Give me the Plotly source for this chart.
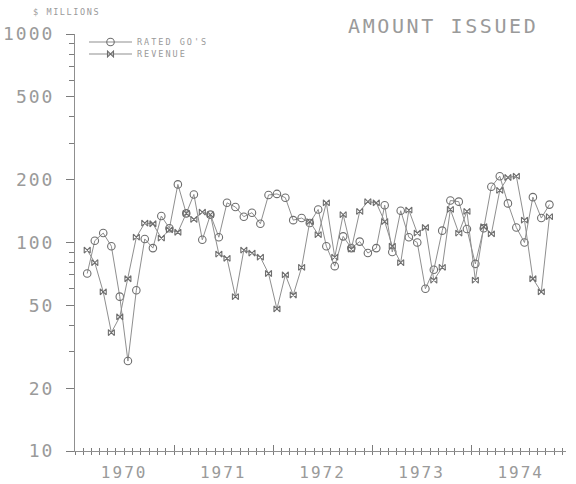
import plotly.graph_objects as go

# ---- data (monthly, $ millions) ----
months = [f"{1970 + m // 12}-{m % 12 + 1:02d}-15" for m in range(1, 58)]  # Feb 1970 .. Oct 1974

rated_gos = [71, 102, 111, 96, 55, 27, 59, 104, 94, 134, 117, 190,
             138, 170, 103, 136, 106, 155, 148, 133, 139, 123, 169, 171,
             164, 128, 131, 124, 144, 96, 77, 107, 94, 101, 89, 94,
             151, 90, 142, 106, 100, 60, 74, 114, 159, 157, 116, 79,
             117, 185, 208, 154, 118, 100, 165, 131, 152]

revenue = [92, 80, 58, 37, 44, 67, 106, 124, 123, 105, 115, 112,
           138, 129, 140, 136, 88, 84, 55, 92, 89, 85, 71, 48,
           70, 56, 76, 126, 109, 155, 85, 136, 93, 141, 157, 155,
           126, 96, 80, 143, 111, 118, 66, 76, 144, 111, 141, 66,
           119, 110, 178, 205, 208, 128, 67, 58, 133]

years = ["1970", "1971", "1972", "1973", "1974"]
y_major = [10, 20, 50, 100, 200, 500, 1000]
y_minor = [30, 40, 60, 70, 80, 90, 300, 400, 600, 700, 800, 900]

TXT = "#9a9a9a"
LINE = "#8f8f8f"
TICK = "#7c7c7c"
MARK = "#6e6e6e"
FONT = "DejaVu Sans Mono"

L, R, T, B = 75, 10, 34, 33
PW, PH = 576 - L - R, 484 - T - B


def spaced(s, ls):
    return f'<span style="letter-spacing:{ls}px">{s}</span>'


def px(xp):
    return (xp - L) / PW


def py(yp):
    return (484 - B - yp) / PH


# axis tick positions: first day of every month, labels centred on each year (1 July)
month_starts = [f"{y}-{mo:02d}-01" for y in years for mo in range(1, 13)]
month_text = [spaced(d[:4], 2) if d[5:7] == "07" else "" for d in month_starts]
year_starts = [f"{y}-01-01" for y in years]

fig = go.Figure()
fig.add_trace(go.Scatter(
    x=months, y=rated_gos, mode="lines+markers", name=spaced("RATED GO'S", 2),
    line=dict(color=LINE, width=1),
    marker=dict(symbol="circle-open", size=7.5, color=MARK, line=dict(width=1.1)),
    legend="legend"))
fig.add_trace(go.Scatter(
    x=months, y=revenue, mode="lines+markers", name=spaced("REVENUE", 2),
    line=dict(color=LINE, width=1),
    marker=dict(symbol="bowtie-open", size=6, color=MARK, line=dict(width=1.1)),
    legend="legend2", xaxis="x2"))

xrange = ["1970-01-01", "1974-12-15"]

fig.update_layout(
    template="none",
    width=576, height=484,
    margin=dict(l=L, r=R, t=T, b=B, pad=0),
    paper_bgcolor="white", plot_bgcolor="white",
    font=dict(family=FONT, color=TXT),
    hovermode=False,
    xaxis=dict(
        type="date", range=xrange, showgrid=False, zeroline=False, automargin=False,
        showline=True, linecolor=LINE, linewidth=1,
        tickmode="array", tickvals=month_starts, ticktext=month_text,
        ticks="outside", ticklen=3, tickcolor=TICK, tickwidth=1,
        tickfont=dict(family=FONT, size=16, color=TXT),
        ticklabelstandoff=4,
    ),
    xaxis2=dict(
        type="date", range=xrange, overlaying="x", anchor="y", side="bottom",
        showgrid=False, zeroline=False, showline=False, showticklabels=False,
        automargin=False,
        tickmode="array", tickvals=year_starts,
        ticks="inside", ticklen=6, tickcolor=TICK, tickwidth=1,
        minor=dict(tickmode="array", tickvals=month_starts, ticks="inside", ticklen=3,
                   tickcolor=TICK, tickwidth=1, showgrid=False),
    ),
    yaxis=dict(
        type="log", range=[1, 3], showgrid=False, zeroline=False, automargin=False,
        showline=True, linecolor=LINE, linewidth=1,
        tickmode="array", tickvals=y_major,
        ticktext=[spaced(str(v), 2) for v in y_major],
        ticks="outside", ticklen=8, tickcolor=TICK, tickwidth=1,
        minor=dict(tickmode="array", tickvals=y_minor, ticks="outside", ticklen=5,
                   tickcolor=TICK, tickwidth=1, showgrid=False),
        tickfont=dict(family=FONT, size=18, color=TXT),
        ticklabelstandoff=8,
    ),
    legend=dict(x=px(84), y=py(42), xanchor="left", yanchor="middle",
                bgcolor="rgba(0,0,0,0)", font=dict(family=FONT, size=8.5, color=TXT),
                itemwidth=43, borderwidth=0),
    legend2=dict(x=px(84), y=py(54), xanchor="left", yanchor="middle",
                 bgcolor="rgba(0,0,0,0)", font=dict(family=FONT, size=8.5, color=TXT),
                 itemwidth=43, borderwidth=0),
    showlegend=True,
    annotations=[
        dict(text=spaced("AMOUNT ISSUED", 2.6), xref="paper", yref="paper",
             x=px(540), y=py(26), xanchor="right", yanchor="middle",
             showarrow=False, font=dict(family=FONT, size=20, color=TXT)),
        dict(text=spaced("$ MILLIONS", 1.6), xref="paper", yref="paper",
             x=px(31), y=py(12), xanchor="left", yanchor="middle",
             showarrow=False, font=dict(family=FONT, size=8.5, color=TXT)),
    ],
)

# remove the browser's default 8px page margin so the figure sits at the window origin
fig.write_html("out.html", config={"displayModeBar": False, "staticPlot": True},
               post_script="document.body.style.margin='0px';")
